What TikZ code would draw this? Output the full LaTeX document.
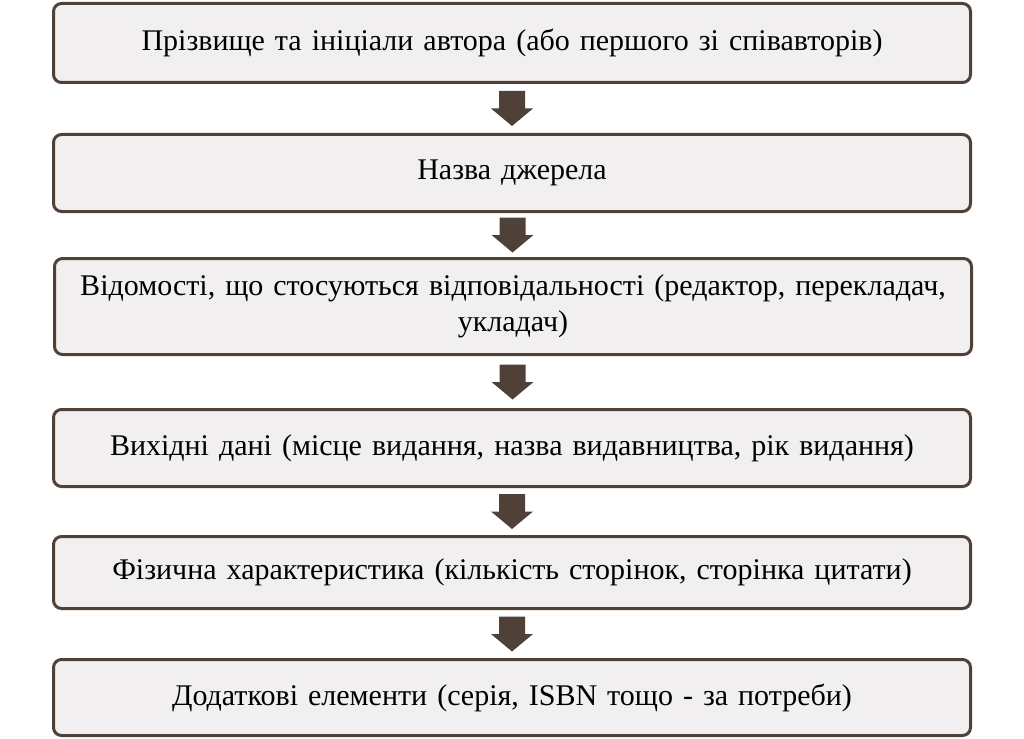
\documentclass[tikz,border=0pt]{standalone}
\usepackage{fontspec}
\setmainfont{Liberation Serif}
\usetikzlibrary{calc}
\definecolor{edgebrown}{HTML}{4F4138}
\definecolor{boxfill}{HTML}{F1EFF0}
\tikzset{
  stepbox/.style={draw=edgebrown, fill=boxfill, line width=3pt, rounded corners=8pt,
    minimum width=917pt, text width=900pt, align=center, inner sep=0pt,
    font=\fontsize{30}{36}\selectfont},
  arrowfill/.style={fill=edgebrown, draw=none}
}
\newcommand{\blockarrow}[2]{%
  \coordinate (m) at ($(#1.south)!0.5!(#2.north)$);
  \fill[arrowfill] ($(m)+(-13,-17.5)$) -- ($(m)+(13,-17.5)$) -- ($(m)+(13,0)$) -- ($(m)+(21,0)$)
    -- ($(m)+(0,17.5)$) -- ($(m)+(-21,0)$) -- ($(m)+(-13,0)$) -- cycle;
}
\begin{document}
\begin{tikzpicture}[x=1pt,y=-1pt]
\useasboundingbox (0,0) rectangle (1024,738);
\node[stepbox, minimum height=79pt] (b1) at (512,43) {Прізвище та ініціали автора (або першого зі співавторів)};
\node[stepbox, minimum height=77pt] (b2) at (512,173) {Назва джерела};
\node[stepbox, minimum height=96pt] (b3) at (513,306.5) {Відомості, що стосуються відповідальності (редактор, перекладач,\\ укладач)};
\node[stepbox, minimum height=77pt] (b4) at (512,448) {Вихідні дані (місце видання, назва видавництва, рік видання)};
\node[stepbox, minimum height=72pt] (b5) at (512,572.5) {Фізична характеристика (кількість сторінок, сторінка цитати)};
\node[stepbox, minimum height=76pt] (b6) at (512,697.5) {Додаткові елементи (серія, ISBN тощо - за потреби)};
\blockarrow{b1}{b2}
\blockarrow{b2}{b3}
\blockarrow{b3}{b4}
\blockarrow{b4}{b5}
\blockarrow{b5}{b6}
\end{tikzpicture}
\end{document}
